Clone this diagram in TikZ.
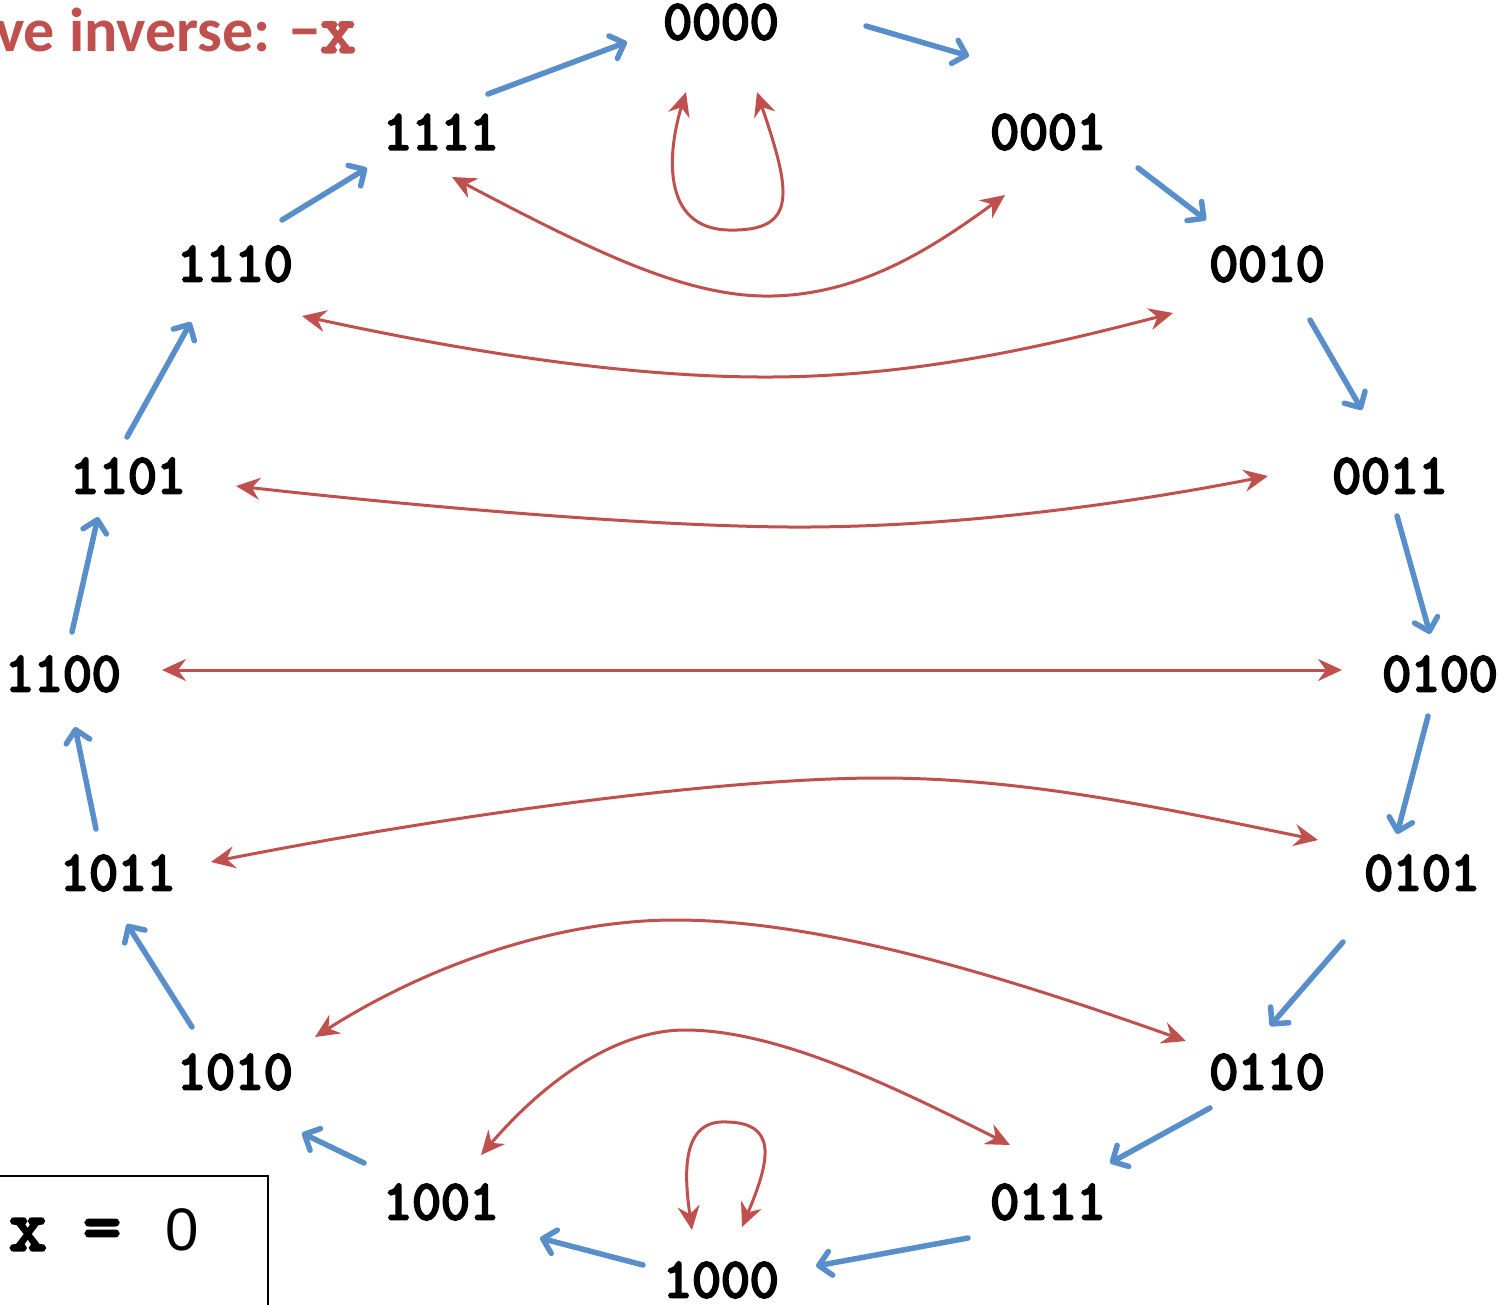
\documentclass[tikz,border=0pt]{standalone}
\usepackage{fontspec}
\setmainfont{Liberation Sans}
\newfontfamily\carlito{Carlito}
\newfontfamily\arialf{Liberation Sans}
\newfontfamily\monob{Latin Modern Mono}[FakeBold=4.5]
\usetikzlibrary{arrows.meta}
\definecolor{ired}{RGB}{192,80,77}
\definecolor{iblue}{RGB}{88,142,202}
\tikzset{
  lbl/.style={font=\monob\fontsize{28}{28}\selectfont, inner sep=0pt},
  barrow/.style={draw=iblue, line width=2.75pt, line cap=round, -{Straight Barb[length=6pt,width=12pt,round]}},
  rarrow/.style={draw=ired, line width=1.5pt, {Stealth[length=12pt,width=11pt,inset=4pt]}-{Stealth[length=12pt,width=11pt,inset=4pt]}},
}
\begin{document}
\begin{tikzpicture}[x=0.5pt,y=-0.5pt]
\useasboundingbox (0,0) rectangle (1499,1305);
\clip (0,0) rectangle (1499,1305);
% title
\node[anchor=base east, inner sep=0pt, text=ired, font=\carlito\bfseries\fontsize{31}{31}\selectfont] (title) at (356,52) {ve inverse: −{\monob\fontsize{34}{34}\selectfont x}};
% labels
\node[lbl] (n0000) at (721,22) {0000};
\node[lbl] (n0001) at (1048,132) {0001};
\node[lbl] (n0010) at (1267,264) {0010};
\node[lbl] (n0011) at (1390,476) {0011};
\node[lbl] (n0100) at (1440,674) {0100};
\node[lbl] (n0101) at (1422,873) {0101};
\node[lbl] (n0110) at (1267,1072) {0110};
\node[lbl] (n0111) at (1048,1202) {0111};
\node[lbl] (n1000) at (721,1280) {1000};
\node[lbl] (n1001) at (441,1202) {1001};
\node[lbl] (n1010) at (235,1072) {1010};
\node[lbl] (n1011) at (118,873) {1011};
\node[lbl] (n1100) at (63,674) {1100};
\node[lbl] (n1101) at (128,476) {1101};
\node[lbl] (n1110) at (235,264) {1110};
\node[lbl] (n1111) at (441,132) {1111};
% box
\node[draw, line width=1pt, anchor=north west, minimum width=138.5pt, minimum height=80pt, inner sep=0pt] (box) at (-10,1175) {};
\node[anchor=base west, inner sep=0pt] (eq) at (9,1250) {{\monob\fontsize{36}{36}\selectfont x = }\kern4pt{\arialf\fontsize{30}{30}\selectfont 0}};
% blue arrows
\draw[barrow] ([shift={(145,4)}]n0000.center) -- ([shift={(-79,-76)}]n0001.center);
\draw[barrow] ([shift={(90,36)}]n0001.center) -- ([shift={(-61,-44)}]n0010.center);
\draw[barrow] ([shift={(43,56)}]n0010.center) -- ([shift={(-28,-66)}]n0011.center);
\draw[barrow] ([shift={(7,40)}]n0011.center) -- ([shift={(-10,-40)}]n0100.center);
\draw[barrow] ([shift={(-12,42)}]n0100.center) -- ([shift={(-25,-39)}]n0101.center);
\draw[barrow] ([shift={(-79,69)}]n0101.center) -- ([shift={(3,-46)}]n0110.center);
\draw[barrow] ([shift={(-57,36)}]n0110.center) -- ([shift={(62,-39)}]n0111.center);
\draw[barrow] ([shift={(-80,36)}]n0111.center) -- ([shift={(95,-14)}]n1000.center);
\draw[barrow] ([shift={(-78,-15)}]n1000.center) -- ([shift={(99,36)}]n1001.center);
\draw[barrow] ([shift={(-77,-39)}]n1001.center) -- ([shift={(67,61)}]n1010.center);
\draw[barrow] ([shift={(-43,-45)}]n1010.center) -- ([shift={(9,51)}]n1011.center);
\draw[barrow] ([shift={(-22,-44)}]n1011.center) -- ([shift={(12,53)}]n1100.center);
\draw[barrow] ([shift={(9,-42)}]n1100.center) -- ([shift={(-30,41)}]n1101.center);
\draw[barrow] ([shift={(-1,-39)}]n1101.center) -- ([shift={(-44,58)}]n1110.center);
\draw[barrow] ([shift={(47,-44)}]n1110.center) -- ([shift={(-74,36)}]n1111.center);
\draw[barrow] ([shift={(47,-38)}]n1111.center) -- ([shift={(-94,20)}]n0000.center);
% red arrows
\draw[rarrow] ([shift={(-35,70)}]n0000.center) .. controls (668,150) and (660,228) .. (728,230) .. controls (800,232) and (790,190) .. ([shift={(36,70)}]n0000.center);
\draw[rarrow] ([shift={(11,45)}]n1111.center) .. controls (600,255) and (690,298) .. (773,296) .. controls (860,294) and (930,250) .. ([shift={(-43,63)}]n0001.center);
\draw[rarrow] ([shift={(67,52)}]n1110.center) .. controls (450,348) and (620,378) .. (773,377) .. controls (920,376) and (1050,345) .. ([shift={(-94,49)}]n0010.center);
\draw[rarrow] ([shift={(108,10)}]n1101.center) .. controls (450,510) and (680,528) .. (810,527) .. controls (960,526) and (1120,505) .. ([shift={(-122,0)}]n0011.center);
\draw[rarrow] ([shift={(99,-4)}]n1100.center) -- ([shift={(-98,-4)}]n0100.center);
\draw[rarrow] ([shift={(93,-11)}]n1011.center) .. controls (450,815) and (720,778) .. (880,778) .. controls (1030,778) and (1170,810) .. ([shift={(-104,-33)}]n0101.center);
\draw[rarrow] ([shift={(80,-35)}]n1010.center) .. controls (420,970) and (550,920) .. (675,920) .. controls (820,920) and (1000,975) .. ([shift={(-81,-31)}]n0110.center);
\draw[rarrow] ([shift={(40,-47)}]n1001.center) .. controls (550,1075) and (620,1030) .. (685,1030) .. controls (780,1030) and (900,1090) .. ([shift={(-38,-57)}]n0111.center);
\draw[rarrow] ([shift={(-29,-50)}]n1000.center) .. controls (685,1180) and (680,1125) .. (720,1122) .. controls (780,1120) and (770,1160) .. ([shift={(21,-53)}]n1000.center);
\end{tikzpicture}
\end{document}
